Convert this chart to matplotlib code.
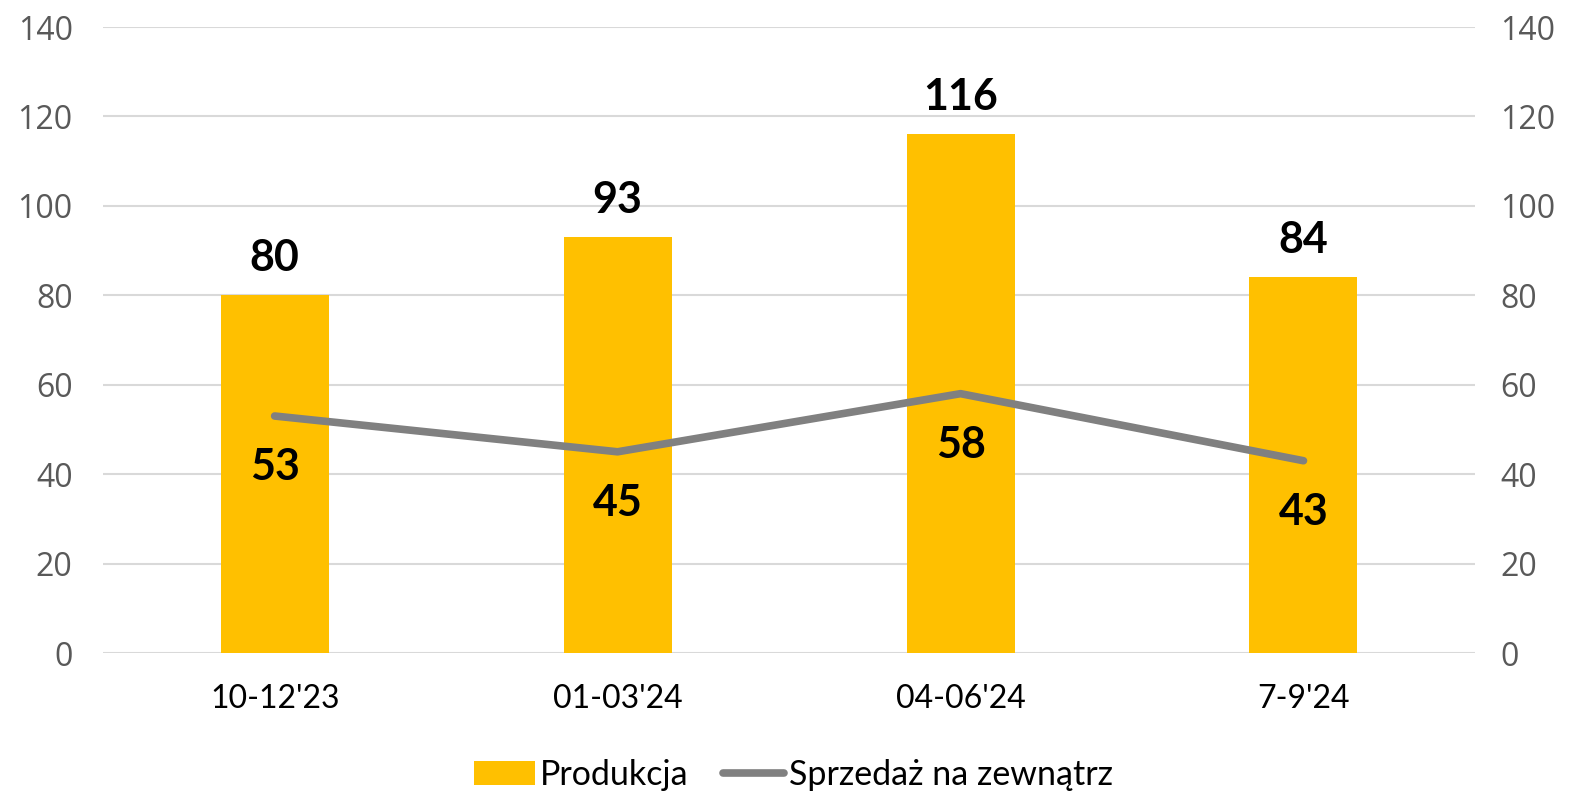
import matplotlib
matplotlib.use('Agg')
import matplotlib.pyplot as plt
import numpy as np

categories = ["10-12'23", "01-03'24", "04-06'24", "7-9'24"]
produkcja = [80, 93, 116, 84]
sprzedaz = [53, 45, 58, 43]
yticks = [0, 20, 40, 60, 80, 100, 120, 140]

label_font = ['Lato', 'DejaVu Sans']
plt.rcParams['font.family'] = ['Open Sans', 'DejaVu Sans']

fig = plt.figure(figsize=(15.87, 7.92), dpi=100)
ax = fig.add_axes([0.065, 0.1755, 0.8644, 0.7904])
ax2 = ax.twinx()

x = np.arange(len(categories))
ax.bar(x, produkcja, width=0.315, color='#FFC000', zorder=2, label='Produkcja')
ax2.plot(x, sprzedaz, color='#808080', lw=5.5, solid_capstyle='round', zorder=3,
         label='Sprzedaż na zewnątrz')

for a in (ax, ax2):
    a.set_ylim(0, 140)
    a.set_yticks(yticks)
    a.set_xlim(-0.5, len(categories) - 0.5)
    for s in a.spines.values():
        s.set_visible(False)
    a.tick_params(axis='y', length=0, labelsize=23, colors='#595959')
ax.tick_params(axis='y', pad=22)
ax2.tick_params(axis='y', pad=18)

ax.grid(axis='y', color='#D9D9D9', lw=1.5, zorder=0)
ax.set_axisbelow(True)
ax.set_xticks(x)
ax.set_xticklabels(categories, fontsize=23, family=label_font)
ax.tick_params(axis='x', length=0, pad=22)

for xi, v in zip(x, produkcja):
    ax.annotate(str(v), (xi, v), xytext=(0, 27), textcoords='offset points',
                ha='center', va='center', fontsize=31, fontweight='bold', family=label_font)
for xi, v in zip(x, sprzedaz):
    ax2.annotate(str(v), (xi, v), xytext=(0, -37), textcoords='offset points',
                 ha='center', va='center', fontsize=31, fontweight='bold', family=label_font)

h1, l1 = ax.get_legend_handles_labels()
h2, l2 = ax2.get_legend_handles_labels()
fig.legend(h1 + h2, l1 + l2, loc='center', bbox_to_anchor=(0.5, 0.022), ncol=2,
           frameon=False, prop={'family': label_font, 'size': 24.5},
           handlelength=1.8, handletextpad=0.15, columnspacing=1.0)

fig.savefig('out.png', dpi=100)
